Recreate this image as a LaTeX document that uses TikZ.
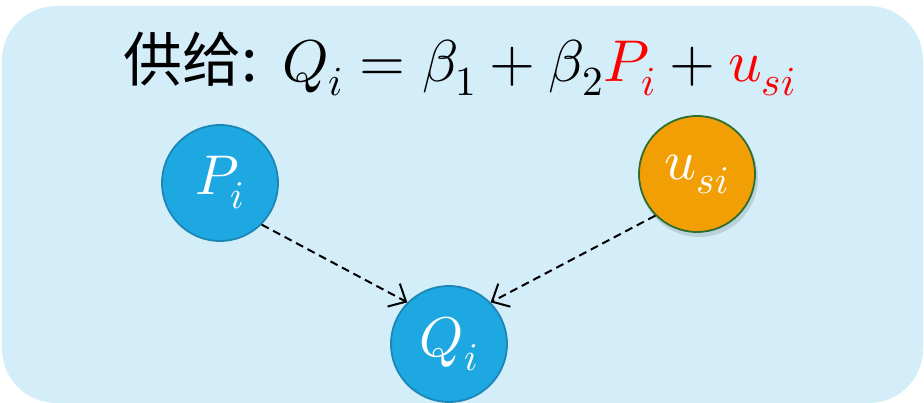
\documentclass[tikz,border=0pt]{standalone}
\usepackage{fontspec}
\usepackage{unicode-math}
\setmathfont{Latin Modern Math}
\newfontfamily\cjk{Noto Sans CJK SC}
\usetikzlibrary{arrows.meta}
\definecolor{bgblue}{HTML}{D4EEF9}
\definecolor{cblue}{HTML}{1EA8E2}
\definecolor{cbluedark}{HTML}{1C86B6}
\definecolor{corange}{HTML}{F29F05}
\definecolor{cgreen}{HTML}{2F6E2F}
\tikzset{
  varnode/.style={circle, minimum size=116pt, inner sep=0pt, line width=1.8pt,
    text=white, font=\fontsize{56}{62}\selectfont},
  bluenode/.style={varnode, fill=cblue, draw=cbluedark},
  orangenode/.style={varnode, fill=corange, draw=cgreen},
  dasharrow/.style={dash pattern=on 8pt off 5pt, line width=2pt,
    -{Straight Barb[length=14pt,width=26pt,line width=2pt]}}
}
\begin{document}
\begin{tikzpicture}[x=1pt,y=-1pt]
\useasboundingbox (0,0) rectangle (924,403);
\fill[bgblue, rounded corners=54pt] (2,6) rectangle (923,403);
\node[font=\fontsize{59}{66}\selectfont, inner sep=0pt] (title) at (460,64)
  {{\cjk 供给:} $Q_i=\beta_1+\beta_2{\color{red}P_i}+{\color{red}u_{si}}$};
\node[bluenode] (P) at (220,183) {$P_i$};
\fill[black, opacity=0.12] (699,178) circle (59pt);
\node[orangenode] (U) at (697,174) {$u_{si}$};
\node[bluenode] (Q) at (449,344) {$Q_i$};
\draw[dasharrow] (P.-45) -- (Q.135);
\draw[dasharrow] (U.225) -- (Q.45);
\end{tikzpicture}
\end{document}
